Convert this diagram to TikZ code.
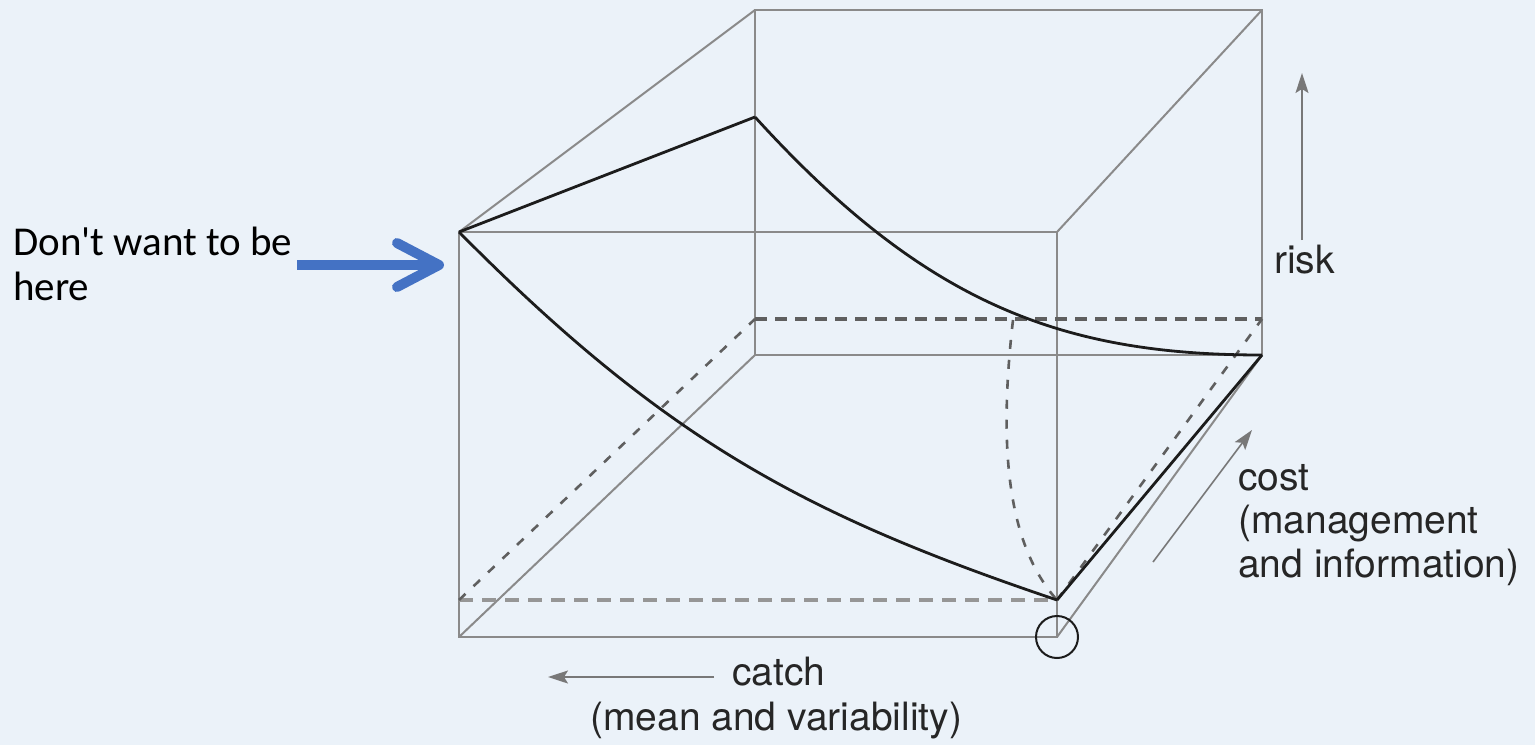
\documentclass[tikz,border=0pt]{standalone}
\usepackage{fontspec}
\setmainfont{TeX Gyre Heros}
\newfontfamily\calfont{Carlito}
\usetikzlibrary{arrows.meta}
\definecolor{bg}{RGB}{235,242,249}
\definecolor{edgegray}{RGB}{138,138,138}
\definecolor{curveblack}{RGB}{28,28,28}
\definecolor{blueA}{RGB}{68,114,196}
\definecolor{darkdash}{RGB}{95,95,95}
\definecolor{lightdash}{RGB}{150,150,150}
\definecolor{axisgray}{RGB}{120,120,120}
\begin{document}
\begin{tikzpicture}[x=1pt,y=-1pt,
  cubeedge/.style={draw=edgegray, line width=2pt},
  curveline/.style={draw=curveblack, line width=2.8pt},
  backdash/.style={draw=darkdash, line width=3.2pt, dash pattern=on 12pt off 8pt},
  frontdash/.style={draw=lightdash, line width=3.6pt, dash pattern=on 14pt off 9pt},
  diagdash/.style={draw=darkdash, line width=2.6pt, dash pattern=on 9pt off 11pt},
  axisarrow/.style={draw=axisgray, line width=1.6pt, -{Stealth[length=20pt,width=13pt,inset=4pt]}},
  bluearrow/.style={draw=blueA, line width=10pt, line join=round},
  axislabel/.style={font=\fontsize{39}{46}\selectfont, text=black!85, inner sep=0pt, anchor=base west},
  notelabel/.style={font=\calfont\fontsize{41}{45}\selectfont, text=black, inner sep=0pt, anchor=base west}
]
\fill[bg] (0,0) rectangle (1535,745);
\useasboundingbox (0,0) rectangle (1535,745);

% cube corners
\coordinate (FTL) at (459,232);
\coordinate (FTR) at (1057,232);
\coordinate (FBR) at (1057,637);
\coordinate (FBL) at (459,637);
\coordinate (BTL) at (755,10);
\coordinate (BTR) at (1262,10);
\coordinate (BBR) at (1262,355);
\coordinate (BBL) at (755,355);
% points on the surfaces
\coordinate (BL117) at (755,117);
\coordinate (FD) at (1057,600);
\coordinate (FDL) at (459,600);
\coordinate (BDL) at (755,319);
\coordinate (BDR) at (1262,319);
\coordinate (BDC) at (1013,320);

% cube wireframe
\draw[cubeedge] (BTL) -- (BTR) -- (BBR) -- (BBL) -- cycle;
\draw[cubeedge] (FTL) -- (FTR) -- (FBR) -- (FBL) -- cycle;
\draw[cubeedge] (FTL) -- (BTL);
\draw[cubeedge] (FTR) -- (BTR);
\draw[cubeedge] (FBR) -- (BBR);
\draw[cubeedge] (FBL) -- (BBL);

% dashed lines
\draw[backdash] (BDL) -- (BDR);
\draw[frontdash] (FDL) -- (FD);
\draw[diagdash] (FDL) -- (BDL);
\draw[diagdash] (FD) -- (BDR);
\draw[diagdash] (BDC) .. controls (998,450) and (1008,545) .. (FD);

% solid trade-off curves
\draw[curveline] (FTL) -- (BL117);
\draw[curveline] (BL117) .. controls (925,304) and (1062,355) .. (BBR);
\draw[curveline] (FTL) .. controls (665,440) and (805,515) .. (FD);
\draw[curveline] (FD) -- (BBR);

% circle at origin
\draw[curveblack, line width=2pt] (FBR) circle[radius=21];

% axis arrows
\coordinate (riskS) at (1302,240);
\coordinate (riskE) at (1302,73);
\draw[axisarrow] (riskS) -- (riskE);
\coordinate (costS) at (1153,562);
\coordinate (costE) at (1252,430);
\draw[axisarrow] (costS) -- (costE);
\coordinate (catchS) at (714,677);
\coordinate (catchE) at (548,677);
\draw[axisarrow] (catchS) -- (catchE);

% labels
\node[axislabel] (risk) at (1274,273) {risk};
\node[axislabel] (cost1) at (1238,490) {cost};
\node[axislabel] (cost2) at (1238,533) {(management};
\node[axislabel] (cost3) at (1238,577) {and information)};
\node[axislabel] (catch1) at (732,685) {catch};
\node[axislabel] (catch2) at (590,730) {(mean and variability)};

% note and blue arrow
\node[notelabel] (note1) at (13,255) {Don't want to be};
\node[notelabel] (note2) at (13,300) {here};
\coordinate (bs) at (297,265);
\coordinate (bt) at (439,265);
\draw[bluearrow] (bs) -- ([xshift=-6pt]bt);
\draw[bluearrow, line cap=round] (bt) ++(-42,-22) -- (bt) -- ++(-42,22);
\end{tikzpicture}
\end{document}
